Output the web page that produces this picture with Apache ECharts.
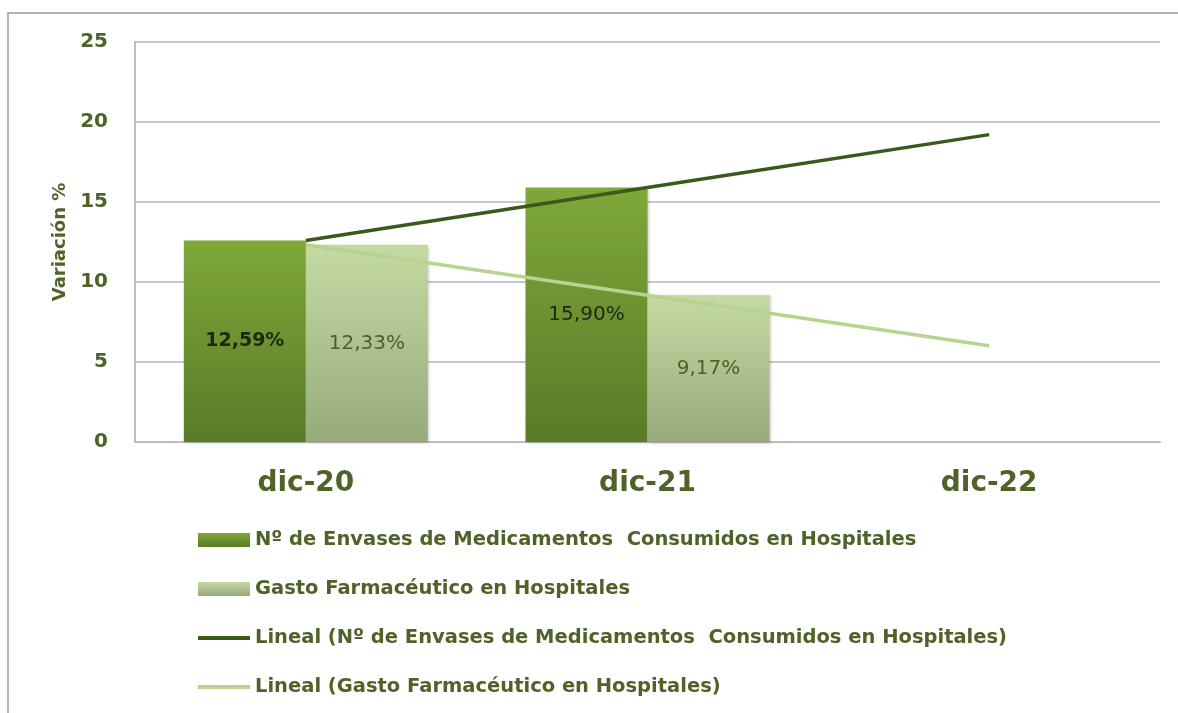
<!DOCTYPE html>
<html>
<head>
<meta charset="utf-8">
<title>Variación %</title>
<script src="https://cdn.jsdelivr.net/npm/echarts@6/dist/echarts.min.js"></script>
<style>
  html, body { margin: 0; padding: 0; background: #fff; }
  #chart { width: 1178px; height: 713px; }
</style>
</head>
<body>
<div id="chart"></div>
<script>
    // datos
    var meses = ['dic-20', 'dic-21', 'dic-22'];
    var envases = [12.59, 15.90, null];
    var gasto = [12.33, 9.17, null];
    // lineas de tendencia (lineal)
    var tendEnvases = [12.59, 15.90, 19.21];
    var tendGasto = [12.33, 9.17, 6.01];
    var yTicks = [0, 5, 10, 15, 20, 25];

    var nombres = [
        'Nº de Envases de Medicamentos  Consumidos en Hospitales',
        'Gasto Farmacéutico en Hospitales',
        'Lineal (Nº de Envases de Medicamentos  Consumidos en Hospitales)',
        'Lineal (Gasto Farmacéutico en Hospitales)'
    ];

    var verde = '#4f6228';
    var fuente = '"DejaVu Sans", sans-serif';

    function etiqueta(p) {
        return p.value.toFixed(2).replace('.', ',') + '%';
    }

    // la primera etiqueta de la serie oscura va en negrita
    var envasesData = envases.map(function(v, i) {
        if (i == 0) {
            return { value: v, label: { fontWeight: 'bold', fontSize: 19 } };
        }
        return v;
    });

    // sin simbolo en la leyenda de las lineas
    var sinSimbolo = { opacity: 0, color: 'rgba(0,0,0,0)', borderWidth: 0 };

    var chart = echarts.init(document.getElementById('chart'));
    var option = {
        animation: false,
        textStyle: { fontFamily: fuente },
        graphic: [{
            type: 'polyline',
            shape: { points: [[1190, 13], [8, 13], [8, 720]] },
            style: { fill: null, stroke: '#b3b3b3', lineWidth: 2 },
            silent: true
        }],
        grid: {
            left: 135,
            right: 18,
            top: 42,
            bottom: 271
        },
        legend: {
            orient: 'vertical',
            left: 191,
            top: 525,
            itemWidth: 52,
            itemHeight: 14,
            itemGap: 29,
            textStyle: {
                color: verde,
                fontSize: 19.5,
                fontWeight: 'bold',
                fontFamily: fuente
            },
            data: [
                { name: nombres[0], icon: 'rect' },
                { name: nombres[1], icon: 'rect' },
                { name: nombres[2], itemStyle: sinSimbolo, lineStyle: { width: 4 } },
                { name: nombres[3], itemStyle: sinSimbolo, lineStyle: { width: 4 } }
            ]
        },
        xAxis: {
            type: 'category',
            data: meses,
            axisTick: { show: false },
            axisLine: { lineStyle: { color: '#bdbdbd', width: 2 } },
            axisLabel: {
                color: verde,
                fontSize: 28,
                fontWeight: 'bold',
                margin: 28
            }
        },
        yAxis: {
            type: 'value',
            min: yTicks[0],
            max: yTicks[yTicks.length - 1],
            interval: 5,
            name: 'Variación %',
            nameLocation: 'middle',
            nameGap: 56,
            nameTextStyle: { color: verde, fontSize: 18, fontWeight: 'bold' },
            axisLine: { show: true, lineStyle: { color: '#bdbdbd', width: 2 } },
            axisTick: { show: false },
            axisLabel: {
                color: verde,
                fontSize: 20,
                fontWeight: 'bold',
                margin: 27
            },
            splitLine: { lineStyle: { color: '#c8c8c8', width: 2 } }
        },
        series: [{
            name: nombres[0],
            type: 'bar',
            data: envasesData,
            barWidth: 122,
            barGap: '0%',
            itemStyle: {
                color: {
                    type: 'linear', x: 0, y: 0, x2: 0, y2: 1,
                    colorStops: [
                        { offset: 0, color: '#7ea83a' },
                        { offset: 1, color: '#597b27' }
                    ]
                },
                shadowColor: 'rgba(0,0,0,0.25)',
                shadowBlur: 3,
                shadowOffsetX: 1,
                shadowOffsetY: 1
            },
            label: {
                show: true,
                position: 'inside',
                formatter: etiqueta,
                color: '#1c2810',
                fontSize: 20
            }
        }, {
            name: nombres[1],
            type: 'bar',
            data: gasto,
            barWidth: 122,
            itemStyle: {
                color: {
                    type: 'linear', x: 0, y: 0, x2: 0, y2: 1,
                    colorStops: [
                        { offset: 0, color: '#c5daa2' },
                        { offset: 1, color: '#97aa7c' }
                    ]
                },
                shadowColor: 'rgba(0,0,0,0.25)',
                shadowBlur: 3,
                shadowOffsetX: 1,
                shadowOffsetY: 1
            },
            label: {
                show: true,
                position: 'inside',
                formatter: etiqueta,
                color: '#4c5f33',
                fontSize: 20
            }
        }, {
            name: nombres[2],
            type: 'line',
            data: tendEnvases,
            symbol: 'none',
            lineStyle: { color: '#3b5a19', width: 3.5 },
            itemStyle: { color: '#3b5a19' },
            z: 5
        }, {
            name: nombres[3],
            type: 'line',
            data: tendGasto,
            symbol: 'none',
            lineStyle: { color: '#b7d48e', width: 3.5 },
            itemStyle: { color: '#b7d48e' },
            z: 5
        }]
    };
    chart.setOption(option);
</script>
</body>
</html>
